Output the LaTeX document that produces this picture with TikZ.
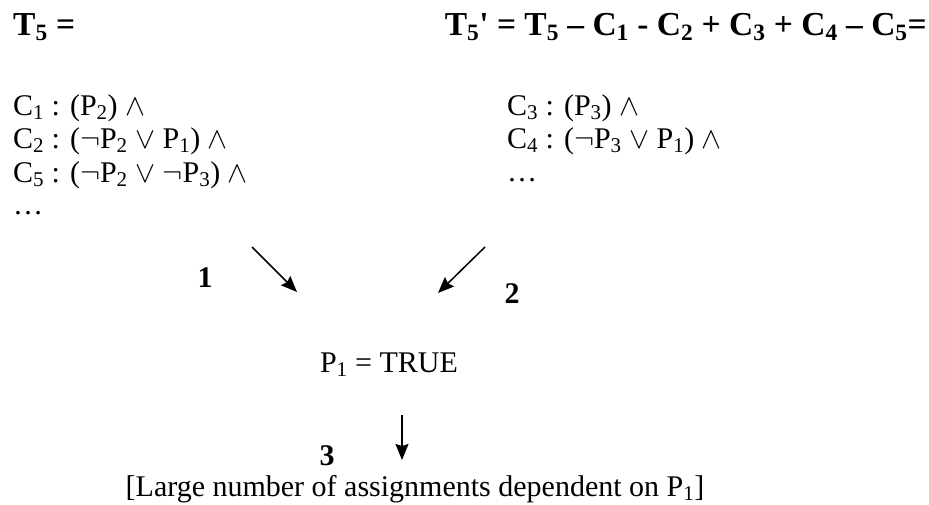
\documentclass[tikz,border=0pt]{standalone}
\usepackage{fix-cm}
\usepackage{amsmath}
\usepackage{fontspec}
\setmainfont{Liberation Serif}
\usetikzlibrary{arrows.meta}

\newcommand{\Cl}[1]{C\textsubscript{#1}}
\newcommand{\Pv}[1]{P\textsubscript{#1}}

\begin{document}
\begin{tikzpicture}[x=1pt, y=-1pt,
    every node/.style={inner sep=0pt, anchor=base west, font=\fontsize{30}{35}\selectfont},
    heading/.style={font=\fontsize{33.5}{38}\selectfont\bfseries},
    numlabel/.style={anchor=center, font=\fontsize{30}{35}\selectfont\bfseries},
    arrow/.style={line width=1.5pt, -{Stealth[length=16pt, width=13pt, inset=2pt]}}]
			\useasboundingbox (0,0) rectangle (929,504);
			
			\node[heading] (tfive) at (13,35) {T\textsubscript{5} =};
			\node[heading, anchor=base east] (tprime) at (927,35)
				{T\textsubscript{5}\textquotesingle{} = T\textsubscript{5} -- \Cl{1} - \Cl{2} + \Cl{3} + \Cl{4} -- \Cl{5}=};
			
			\node (cone) at (13,115) {\Cl{1} : (\Pv{2}) $\wedge$};
			\node (ctwo) at (13,148) {\Cl{2} : ($\neg$\Pv{2} $\vee$ \Pv{1}) $\wedge$};
			\node (cfive) at (13,182) {\Cl{5} : ($\neg$\Pv{2} $\vee$ $\neg$\Pv{3}) $\wedge$};
			\node (ldots) at (13,214) {\dots};
			
			\node (cthree) at (507,115) {\Cl{3} : (\Pv{3}) $\wedge$};
			\node (cfour) at (507,148) {\Cl{4} : ($\neg$\Pv{3} $\vee$ \Pv{1}) $\wedge$};
			\node (rdots) at (507,181) {\dots};
			
			\node[anchor=base] (ptrue) at (389,372) {\Pv{1} = TRUE};
			\node[anchor=base] (result) at (415,496) {[Large number of assignments dependent on \Pv{1}]};
			
			\coordinate (aone) at (252,247);
			\coordinate (bone) at (297,292);
			\coordinate (atwo) at (485,247);
			\coordinate (btwo) at (438,293);
			\coordinate (athree) at (402,415);
			\coordinate (bthree) at (402,460);
			
			\draw[arrow] (aone) -- (bone);
			\draw[arrow] (atwo) -- (btwo);
			\draw[arrow] (athree) -- (bthree);
			
			\node[numlabel] (lone) at (205,278) {1};
			\node[numlabel] (ltwo) at (512,294) {2};
			\node[numlabel] (lthree) at (327,456) {3};
		\end{tikzpicture}
\end{document}
